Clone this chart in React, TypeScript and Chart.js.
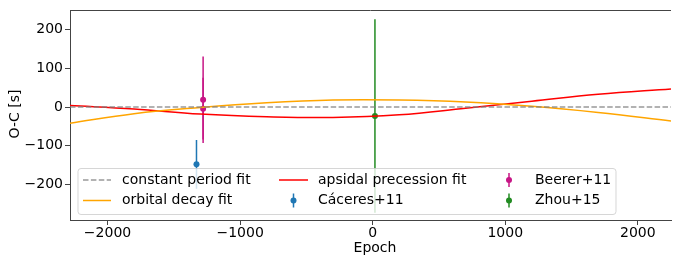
import React, { useEffect, useRef } from 'react';
import { Chart, registerables } from 'chart.js';
Chart.register(...registerables);

// Model curves sampled along epoch
const fitEpochs = [-2283, -1800, -1300, -800, -300, 200, 700, 1200, 1700, 2250];
const constantFit = [0, 0, 0, 0, 0, 0, 0, 0, 0, 0];
const decayFit = [-42, -17, -1, 11, 18, 18, 13, 2, -14, -36];
const apsidalFit = [4, -5, -18, -25, -27, -20, -3, 15, 33, 47];

// Observations
const caceresEpochs = [-1329];
const caceresOC = [-148];
const caceresErr = [63];
const beererEpochs = [-1279, -1279];
const beererOC = [19, -4];
const beererErr = [112, 80];
const zhouEpochs = [17];
const zhouOC = [-23];
const zhouErr = [250];

const xTicks = [-2000, -1000, 0, 1000, 2000];
const yTicks = [-200, -100, 0, 100, 200];
const X_MIN = -2283;
const X_MAX = 2250;
const Y_MIN = -292;
const Y_MAX = 250;

const FONT = '"DejaVu Sans", sans-serif';
const fmt = (v: number) => (v < 0 ? '\u2212' + Math.abs(v) : String(v));

const C_GRAY = 'rgba(128,128,128,0.8)';
const C_ORANGE = '#FFA500';
const C_RED = '#FF0000';
const C_BLUE = '#1f77b4';
const C_MAGENTA = '#C71585';
const C_GREEN = '#228B22';
const C_SPINE = '#444';

export default function App() {
  const ref = useRef<HTMLCanvasElement>(null);

  useEffect(() => {
    const obs = [
      { label: 'Cáceres+11', color: C_BLUE, x: caceresEpochs, y: caceresOC, e: caceresErr },
      { label: 'Beerer+11', color: C_MAGENTA, x: beererEpochs, y: beererOC, e: beererErr },
      { label: 'Zhou+15', color: C_GREEN, x: zhouEpochs, y: zhouOC, e: zhouErr },
    ];

    const errorBars = {
      id: 'errorBars',
      beforeDatasetsDraw(chart: any) {
        const { ctx, chartArea, scales } = chart;
        ctx.save();
        ctx.beginPath();
        ctx.rect(chartArea.left, chartArea.top, chartArea.right - chartArea.left, chartArea.bottom - chartArea.top);
        ctx.clip();
        ctx.lineWidth = 1.5;
        obs.forEach((o) => {
          ctx.strokeStyle = o.color;
          o.x.forEach((xv, i) => {
            const px = scales.x.getPixelForValue(xv);
            ctx.beginPath();
            ctx.moveTo(px, scales.y.getPixelForValue(o.y[i] - o.e[i]));
            ctx.lineTo(px, scales.y.getPixelForValue(o.y[i] + o.e[i]));
            ctx.stroke();
          });
        });
        ctx.restore();
      },
    };

    const frameLegend = {
      id: 'frameLegend',
      afterDraw(chart: any) {
        const { ctx, chartArea } = chart;
        ctx.save();
        // top spine
        ctx.strokeStyle = C_SPINE;
        ctx.lineWidth = 1;
        ctx.beginPath();
        ctx.moveTo(chartArea.left, Math.round(chartArea.top) + 0.5);
        ctx.lineTo(chartArea.right, Math.round(chartArea.top) + 0.5);
        ctx.stroke();

        // axis titles
        ctx.fillStyle = '#000';
        ctx.font = `14px ${FONT}`;
        ctx.textAlign = 'center';
        ctx.textBaseline = 'middle';
        ctx.fillText('Epoch', 375, 248);
        ctx.save();
        ctx.translate(15, 114);
        ctx.rotate(-Math.PI / 2);
        ctx.fillText('O-C [s]', 0, 0);
        ctx.restore();

        // legend box
        const bx = 78, by = 168.5, bw = 538, bh = 46, r = 3;
        ctx.beginPath();
        ctx.moveTo(bx + r, by);
        ctx.lineTo(bx + bw - r, by);
        ctx.quadraticCurveTo(bx + bw, by, bx + bw, by + r);
        ctx.lineTo(bx + bw, by + bh - r);
        ctx.quadraticCurveTo(bx + bw, by + bh, bx + bw - r, by + bh);
        ctx.lineTo(bx + r, by + bh);
        ctx.quadraticCurveTo(bx, by + bh, bx, by + bh - r);
        ctx.lineTo(bx, by + r);
        ctx.quadraticCurveTo(bx, by, bx + r, by);
        ctx.closePath();
        ctx.fillStyle = 'rgba(255,255,255,0.8)';
        ctx.fill();
        ctx.strokeStyle = 'rgba(204,204,204,0.8)';
        ctx.lineWidth = 1;
        ctx.stroke();

        const rows = [180, 200.5];
        const lineHandle = (x0: number, x1: number, y: number, color: string, dash: number[]) => {
          ctx.save();
          ctx.strokeStyle = color;
          ctx.lineWidth = 1.5;
          ctx.setLineDash(dash);
          ctx.beginPath();
          ctx.moveTo(x0, y);
          ctx.lineTo(x1, y);
          ctx.stroke();
          ctx.restore();
        };
        const errHandle = (cx: number, y: number, color: string) => {
          ctx.save();
          ctx.strokeStyle = color;
          ctx.fillStyle = color;
          ctx.lineWidth = 1.5;
          ctx.beginPath();
          ctx.moveTo(cx, y - 7);
          ctx.lineTo(cx, y + 7);
          ctx.stroke();
          ctx.beginPath();
          ctx.arc(cx, y, 3, 0, Math.PI * 2);
          ctx.fill();
          ctx.restore();
        };
        lineHandle(83, 111, rows[0], C_GRAY, [5.5, 2.4]);
        lineHandle(83, 111, rows[1], C_ORANGE, []);
        lineHandle(279, 308, rows[0], C_RED, []);
        errHandle(293.5, rows[1], C_BLUE);
        errHandle(509, rows[0], C_MAGENTA);
        errHandle(509, rows[1], C_GREEN);

        ctx.fillStyle = '#000';
        ctx.font = `14px ${FONT}`;
        ctx.textAlign = 'left';
        ctx.textBaseline = 'middle';
        ctx.fillText('constant period fit', 122, rows[0]);
        ctx.fillText('orbital decay fit', 122, rows[1]);
        ctx.fillText('apsidal precession fit', 318, rows[0]);
        ctx.fillText('Cáceres+11', 318, rows[1]);
        ctx.fillText('Beerer+11', 535, rows[0]);
        ctx.fillText('Zhou+15', 535, rows[1]);
        ctx.restore();
      },
    };

    const toPts = (xs: number[], ys: number[]) => xs.map((x, i) => ({ x, y: ys[i] }));

    const chart = new Chart(ref.current as HTMLCanvasElement, {
      type: 'scatter',
      data: {
        datasets: [
          {
            type: 'line',
            label: 'constant period fit',
            data: toPts(fitEpochs, constantFit),
            borderColor: C_GRAY,
            borderWidth: 1.5,
            borderDash: [5.5, 2.4],
            pointRadius: 0,
            showLine: true,
            order: 0,
          },
          {
            type: 'line',
            label: 'orbital decay fit',
            data: toPts(fitEpochs, decayFit),
            borderColor: C_ORANGE,
            borderWidth: 1.5,
            pointRadius: 0,
            tension: 0.4,
            showLine: true,
            order: 0,
          },
          {
            type: 'line',
            label: 'apsidal precession fit',
            data: toPts(fitEpochs, apsidalFit),
            borderColor: C_RED,
            borderWidth: 1.5,
            pointRadius: 0,
            tension: 0.4,
            showLine: true,
            order: 0,
          },
          ...obs.map((o) => ({
            type: 'scatter' as const,
            label: o.label,
            data: toPts(o.x, o.y),
            backgroundColor: o.color,
            borderColor: o.color,
            pointRadius: 3,
            pointBorderWidth: 0,
            order: 1,
          })),
        ] as any,
      },
      options: {
        responsive: false,
        animation: false,
        devicePixelRatio: 1,
        layout: { padding: { top: 8, left: 0, right: 0, bottom: 0 } },
        plugins: {
          legend: { display: false },
          tooltip: { enabled: false },
          title: { display: false },
        },
        scales: {
          x: {
            type: 'linear',
            min: X_MIN,
            max: X_MAX,
            bounds: 'data',
            afterFit: (s: any) => {
              s.height = 37;
            },
            afterBuildTicks: (s: any) => {
              s.ticks = xTicks.map((v) => ({ value: v }));
            },
            grid: {
              display: true,
              drawOnChartArea: false,
              drawTicks: true,
              tickLength: 5,
              tickColor: C_SPINE,
              tickWidth: 1,
            },
            border: { display: true, color: C_SPINE, width: 1 },
            ticks: {
              color: '#000',
              font: { family: FONT, size: 14 },
              padding: 0,
              maxRotation: 0,
              callback: (v: any) => fmt(Number(v)),
            },
          },
          y: {
            type: 'linear',
            min: Y_MIN,
            max: Y_MAX,
            bounds: 'data',
            afterFit: (s: any) => {
              s.width = 70;
            },
            afterBuildTicks: (s: any) => {
              s.ticks = yTicks.map((v) => ({ value: v }));
            },
            grid: {
              display: true,
              drawOnChartArea: false,
              drawTicks: true,
              tickLength: 5,
              tickColor: C_SPINE,
              tickWidth: 1,
            },
            border: { display: true, color: C_SPINE, width: 1 },
            ticks: {
              color: '#000',
              font: { family: FONT, size: 14 },
              padding: 2,
              callback: (v: any) => fmt(Number(v)),
            },
          },
        },
      },
      plugins: [errorBars, frameLegend],
    });
    return () => chart.destroy();
  }, []);

  return (
    <div style={{ position: 'fixed', left: 0, top: 0, width: 675, height: 257, background: '#fff' }}>
      <canvas ref={ref} width={675} height={257} style={{ display: 'block', width: 675, height: 257 }} />
    </div>
  );
}
